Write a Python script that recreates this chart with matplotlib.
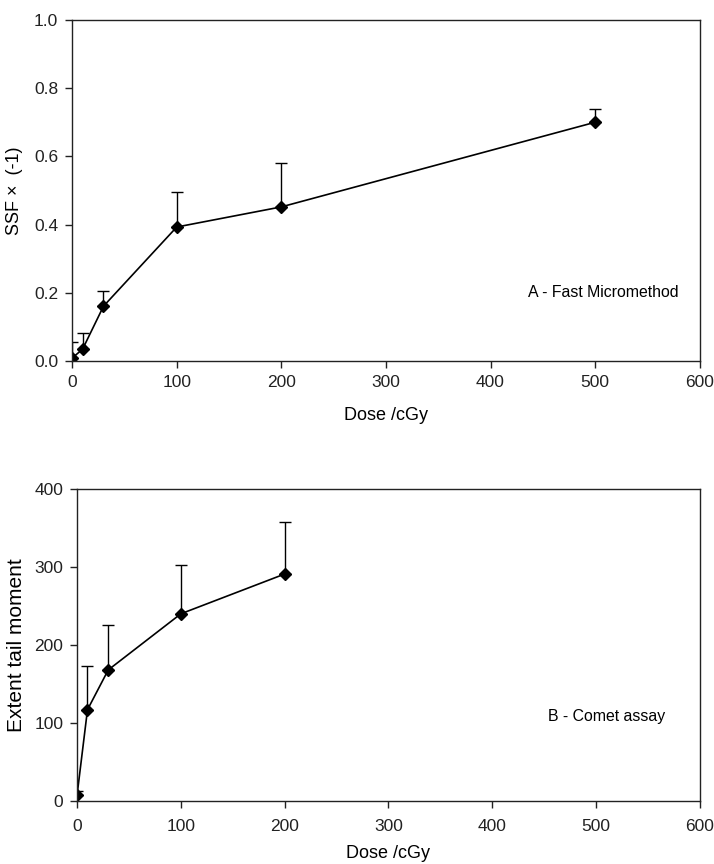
import matplotlib
matplotlib.use("Agg")
import matplotlib.pyplot as plt

plt.rcParams['font.family'] = ['Liberation Sans', 'DejaVu Sans']

# --- data ---
dose_a = [0, 10, 30, 100, 200, 500]
ssf = [0.009, 0.035, 0.161, 0.393, 0.452, 0.700]
ssf_err = [0.047, 0.047, 0.045, 0.102, 0.130, 0.040]

dose_b = [0, 10, 30, 100, 200]
tail = [8, 117, 168, 240, 291]
tail_err = [5, 56, 57, 63, 67]


def style_axes(ax):
    for sp in ax.spines.values():
        sp.set_linewidth(1.0)
        sp.set_color('#222222')
    ax.tick_params(direction='out', length=5, width=1.0, labelsize=12.5,
                   colors='#222222', pad=5)


fig = plt.figure(figsize=(7.14, 8.64), dpi=100)

# --- panel A ---
ax1 = fig.add_axes([0.101, 0.582, 0.879, 0.395])
ax1.errorbar(dose_a, ssf, yerr=[[0] * len(ssf), ssf_err], fmt='-D',
             color='black', ms=6.5, lw=1.2, elinewidth=1.0, capsize=4.5,
             capthick=1.0)
ax1.set_xlim(0, 600)
ax1.set_ylim(0, 1.0)
ax1.set_xticks(range(0, 601, 100))
ax1.set_yticks([0.0, 0.2, 0.4, 0.6, 0.8, 1.0])
ax1.set_yticklabels(['0.0', '0.2', '0.4', '0.6', '0.8', '1.0'])
ax1.set_xlabel('Dose /cGy', fontsize=13, labelpad=12)
ax1.set_ylabel('SSF ×  (-1)', fontsize=13, labelpad=8)
ax1.text(436, 0.20, 'A - Fast Micromethod', fontsize=11.4, va='center')
style_axes(ax1)

# --- panel B ---
ax2 = fig.add_axes([0.108, 0.073, 0.872, 0.361])
ax2.errorbar(dose_b, tail, yerr=[[0] * len(tail), tail_err], fmt='-D',
             color='black', ms=6.5, lw=1.2, elinewidth=1.0, capsize=4.5,
             capthick=1.0)
ax2.set_xlim(0, 600)
ax2.set_ylim(0, 400)
ax2.set_xticks(range(0, 601, 100))
ax2.set_yticks(range(0, 401, 100))
ax2.set_xlabel('Dose /cGy', fontsize=13, labelpad=8)
ax2.set_ylabel('Extent tail moment', fontsize=15, labelpad=6)
ax2.text(454, 108, 'B - Comet assay', fontsize=11.4, va='center', ha='left')
style_axes(ax2)
ax2.tick_params(axis='x', pad=8)

fig.savefig('out.png', dpi=100)
